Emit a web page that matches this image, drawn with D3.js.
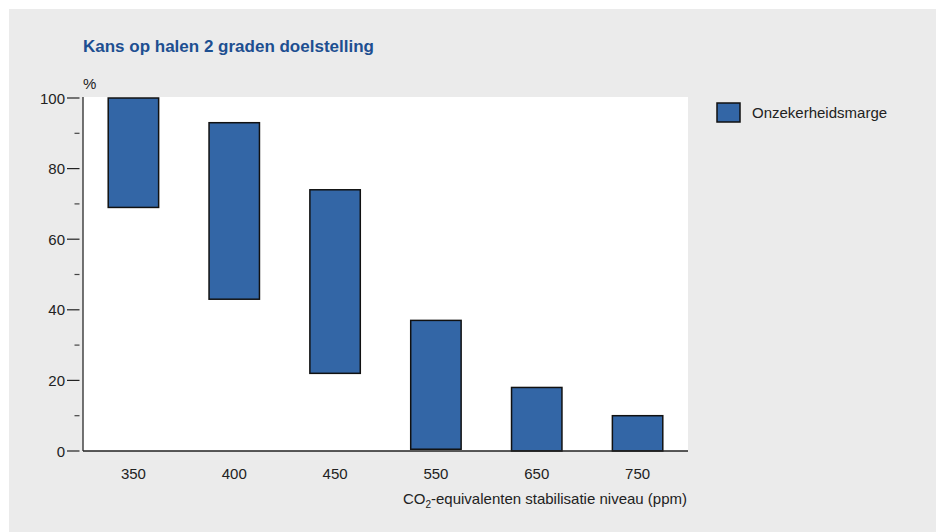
<!DOCTYPE html>
<html>
<head>
<meta charset="utf-8">
<script src="https://cdn.jsdelivr.net/npm/d3@7"></script>
<style>
  html, body { margin: 0; padding: 0; background: #ffffff; }
  svg { display: block; }
  text { font-family: "Liberation Sans", Arial, sans-serif; }
</style>
</head>
<body>
<svg id="chart" width="936" height="532"></svg>
<script>
// Stabilisation levels (ppm CO2-eq) and the uncertainty range of the chance (%)
const categories = ["350", "400", "450", "550", "650", "750"];
const lowValues  = [69, 43, 22, 0.5, 0, 0];
const highValues = [100, 93, 74, 37, 18, 10];
const majorTicks = [0, 20, 40, 60, 80, 100];
const minorTicks = [10, 30, 50, 70, 90];
const seriesName = "Onzekerheidsmarge";

const svg = d3.select("#chart");

// panel background
svg.append("rect").attr("x", 9).attr("y", 9).attr("width", 927).attr("height", 523).attr("fill", "#ebebeb");

const plot = { left: 83, right: 688, top: 97, bottom: 451 };

const x = d3.scaleBand().domain(categories).range([plot.left, plot.right]).paddingInner(0.5).paddingOuter(0.25);
const y = d3.scaleLinear().domain([0, 100]).range([plot.bottom, 98]);

// plotting area
svg.append("rect")
  .attr("x", plot.left).attr("y", plot.top)
  .attr("width", plot.right - plot.left).attr("height", plot.bottom - plot.top)
  .attr("fill", "#ffffff");

// title
svg.append("text").attr("x", 83).attr("y", 52)
  .attr("font-size", 17).attr("font-weight", "bold").attr("fill", "#1d4f91")
  .text("Kans op halen 2 graden doelstelling");

// unit label
svg.append("text").attr("x", 83).attr("y", 89).attr("font-size", 15).attr("fill", "#222").text("%");

// bars
const data = categories.map((c, i) => ({ c, lo: lowValues[i], hi: highValues[i] }));
svg.append("g").selectAll("rect").data(data).join("rect")
  .attr("x", d => x(d.c))
  .attr("width", x.bandwidth())
  .attr("y", d => y(d.hi))
  .attr("height", d => y(d.lo) - y(d.hi))
  .attr("fill", "#3366a6")
  .attr("stroke", "#111")
  .attr("stroke-width", 1.5);

// y axis line
svg.append("line").attr("x1", plot.left).attr("x2", plot.left).attr("y1", plot.top).attr("y2", plot.bottom)
  .attr("stroke", "#444").attr("stroke-width", 1.5);
// x axis line
svg.append("line").attr("x1", plot.left).attr("x2", plot.right).attr("y1", plot.bottom).attr("y2", plot.bottom)
  .attr("stroke", "#222").attr("stroke-width", 1.5);

// y ticks
const yt = svg.append("g");
yt.selectAll("line.major").data(majorTicks).join("line")
  .attr("class", "major")
  .attr("x1", 67).attr("x2", 79.5)
  .attr("y1", d => y(d)).attr("y2", d => y(d))
  .attr("stroke", "#222").attr("stroke-width", 1.2);
yt.selectAll("line.minor").data(minorTicks).join("line")
  .attr("class", "minor")
  .attr("x1", 74.5).attr("x2", 79.5)
  .attr("y1", d => y(d)).attr("y2", d => y(d))
  .attr("stroke", "#444").attr("stroke-width", 1.2);
yt.selectAll("text").data(majorTicks).join("text")
  .attr("x", 65).attr("y", d => y(d) + 5.5)
  .attr("text-anchor", "end").attr("font-size", 15).attr("fill", "#222")
  .text(d => d);

// x tick labels
svg.append("g").selectAll("text").data(categories).join("text")
  .attr("x", d => x(d) + x.bandwidth() / 2).attr("y", 479)
  .attr("text-anchor", "middle").attr("font-size", 15).attr("fill", "#222")
  .text(d => d);

// x axis title with subscript
const xt = svg.append("text").attr("x", 687).attr("y", 504)
  .attr("text-anchor", "end").attr("font-size", 15).attr("fill", "#222");
xt.append("tspan").text("CO");
xt.append("tspan").attr("font-size", 10).attr("dy", 4).text("2");
xt.append("tspan").attr("dy", -4).text("-equivalenten stabilisatie niveau (ppm)");

// legend
svg.append("rect").attr("x", 717).attr("y", 103).attr("width", 23).attr("height", 19)
  .attr("fill", "#3366a6").attr("stroke", "#111").attr("stroke-width", 1.5);
svg.append("text").attr("x", 752).attr("y", 118).attr("font-size", 15).attr("fill", "#222").text(seriesName);
</script>
</body>
</html>
